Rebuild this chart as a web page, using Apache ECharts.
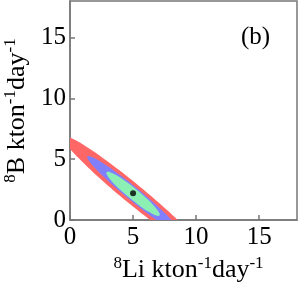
<!DOCTYPE html>
<html><head><meta charset="utf-8">
<script src="https://cdn.jsdelivr.net/npm/echarts@6/dist/echarts.min.js"></script>
<style>html,body{margin:0;padding:0;background:#fff}#c{width:299px;height:289px}</style>
</head><body><div id="c"></div>
<script>
// tick values (both axes)
const xTicks = [0, 5, 10, 15];
const yTicks = [0, 5, 10, 15];
// best-fit point
const bestFit = [[5.0, 2.2]];
// contour outlines, [8Li, 8B]
const redContour = [[10.53,-2.55],[10.31,-1.96],[9.28,-0.75],[7.60,0.91],[5.52,2.76],[3.36,4.52],[1.46,5.91],[0.09,6.73],[-0.53,6.85],[-0.31,6.26],[0.72,5.05],[2.40,3.39],[4.48,1.54],[6.64,-0.22],[8.54,-1.61],[9.91,-2.43]];
const blueContour = [[8.62,-0.93],[8.48,-0.54],[7.81,0.27],[6.71,1.35],[5.35,2.56],[3.94,3.71],[2.69,4.62],[1.79,5.15],[1.38,5.23],[1.52,4.84],[2.19,4.04],[3.29,2.95],[4.65,1.74],[6.06,0.59],[7.31,-0.32],[8.21,-0.85]];
const greenContour = [[7.10,0.37],[7.05,0.63],[6.68,1.13],[6.07,1.78],[5.29,2.49],[4.46,3.14],[3.72,3.65],[3.17,3.93],[2.90,3.93],[2.95,3.67],[3.32,3.17],[3.93,2.52],[4.72,1.82],[5.54,1.16],[6.28,0.65],[6.83,0.37]];
const contours = [redContour, blueContour, greenContour];
const contourColors = ['#ff6666', '#8080ff', '#8cf0b4'];

const FONT = 'Liberation Serif';
const chart = echarts.init(document.getElementById('c'), null, {renderer: 'canvas'});
const rich = {
  n: {fontFamily: FONT, fontSize: 26, color: '#000', lineHeight: 28, verticalAlign: 'bottom'},
  s: {fontFamily: FONT, fontSize: 17, color: '#000', lineHeight: 28, verticalAlign: 'top'}
};
function axisCommon(ticks, name, gap) {
  return {
    type: 'value', min: 0, max: 18,
    name: name, nameLocation: 'middle', nameGap: gap,
    nameTextStyle: {rich: rich},
    axisLine: {show: true, onZero: false, lineStyle: {color: '#777', width: 1.5}},
    axisTick: {show: true, inside: true, length: 5, customValues: ticks, lineStyle: {color: '#777', width: 1.5}},
    axisLabel: {customValues: ticks, fontFamily: FONT, fontSize: 25, color: '#000'},
    splitLine: {show: false}
  };
}
const xAxis = axisCommon(xTicks, '{s|8}{n|Li kton}{s|-1}{n|day}{s|-1}', 35);
xAxis.axisLabel.margin = 5;
xAxis.nameTextStyle.padding = [0, 0, 0, 10];
const yAxis = axisCommon(yTicks, '{s|8}{n|B kton}{s|-1}{n|day}{s|-1}', 31);
yAxis.axisLabel.margin = 4;

chart.setOption({
  animation: false,
  grid: {left: 70, right: 2, top: 1, bottom: 69, show: true, borderColor: '#777', borderWidth: 1.5, containLabel: false, outerBoundsMode: 'none'},
  xAxis: xAxis,
  yAxis: yAxis,
  graphic: [{type: 'text', left: 241, top: 25, style: {text: '(b)', fontFamily: FONT, fontSize: 25, fill: '#000'}}],
  series: [
    {
      type: 'custom', clip: true, coordinateSystem: 'cartesian2d',
      data: contours.map((c, i) => [i]),
      encode: {x: -1, y: -1},
      renderItem: function (params, api) {
        const idx = api.value(0);
        const pts = contours[idx].map(p => api.coord(p));
        return {type: 'polygon', shape: {points: pts, smooth: 0.4}, style: {fill: contourColors[idx], stroke: null}};
      }
    },
    {
      type: 'scatter', data: bestFit, symbol: 'circle', symbolSize: 6,
      itemStyle: {color: '#000'}, z: 5
    }
  ]
});
</script></body></html>
